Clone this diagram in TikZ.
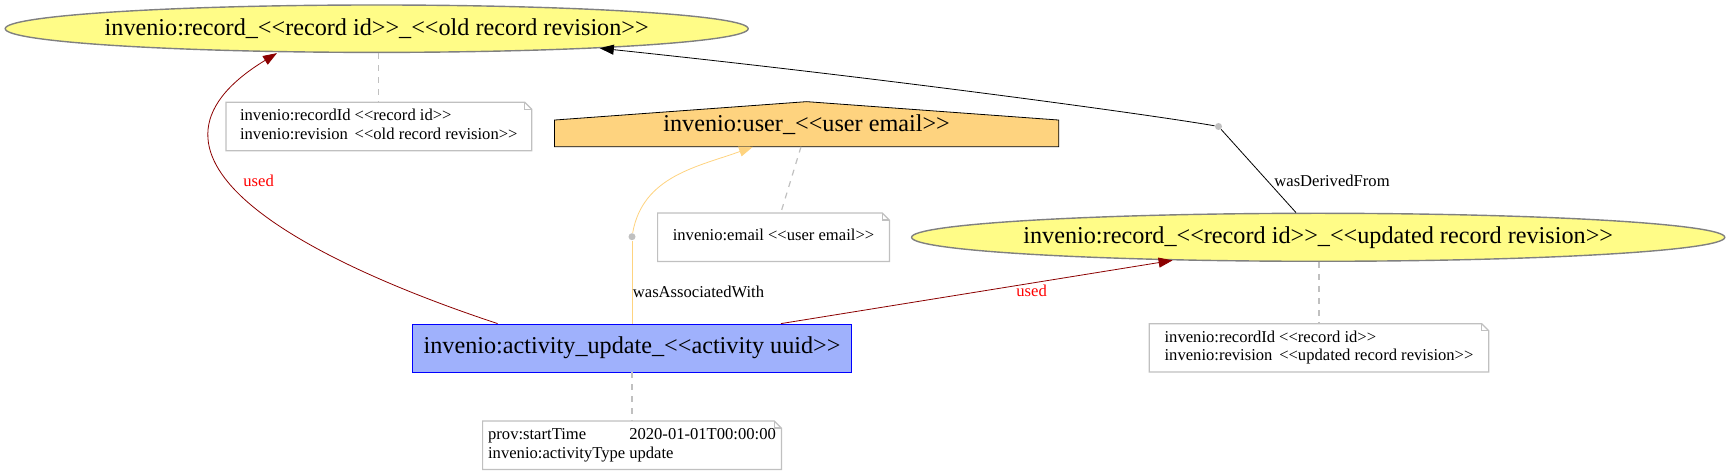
\documentclass[tikz,border=0pt]{standalone}
\usepackage{fontspec}
\setmainfont{Liberation Serif}[Ligatures=TeXOff]
\usetikzlibrary{shapes.geometric,arrows.meta}
\pgfdeclarelayer{bg}
\pgfsetlayers{bg,main}

\definecolor{entityfill}{HTML}{FFFC87}
\definecolor{entityline}{HTML}{808080}
\definecolor{activityfill}{HTML}{9FB1FC}
\definecolor{agentfill}{HTML}{FED37F}
\definecolor{annotgray}{HTML}{C0C0C0}
\definecolor{usedred}{HTML}{8B0000}

\newcommand{\bigfont}{\fontsize{12.1}{14}\selectfont}
\newcommand{\smallfont}{\fontsize{8.3}{9.2}\selectfont}
\newcommand{\wide}[1]{\makebox[0pt]{#1}}
\newcommand{\kv}[1]{\begin{tabular}{@{}l@{\hspace{2pt}}l@{}}#1\end{tabular}}
% outline of a note with its folded corner
\newcommand{\noteframe}[1]{%
    \draw[annot] (#1.north west) -- ([xshift=-3.5pt]#1.north east)
        -- ([yshift=-3.5pt]#1.north east) -- (#1.south east)
        -- (#1.south west) -- cycle;%
    \draw[annot] ([xshift=-3.5pt]#1.north east) |- ([yshift=-3.5pt]#1.north east);%
}

\begin{document}
\begin{tikzpicture}[x=0.5pt, y=-0.5pt, line width=0.7pt,
    entity/.style={ellipse, draw=entityline, fill=entityfill, inner sep=0pt, font=\bigfont},
    activity/.style={rectangle, draw=blue, fill=activityfill, inner sep=0pt, font=\bigfont},
    agent/.style={rectangle, inner sep=0pt, font=\bigfont},
    annotation/.style={rectangle, fill=white, inner sep=0pt, minimum height=23.8pt, font=\smallfont},
    blank/.style={circle, fill=annotgray, inner sep=0pt, minimum size=3.5pt},
    annot/.style={draw=annotgray, line width=0.6pt},
    annotlink/.style={annot, dash pattern=on 3pt off 3pt},
    lbl/.style={inner sep=0pt, font=\smallfont},
    arrowed/.style={-{Triangle[length=7pt, width=5pt]}},
    usedline/.style={draw=usedred},
    assocline/.style={draw=agentfill}]

    \useasboundingbox (0,0) rectangle (1730,475);

    % --- Entities ---
    \node[entity, minimum width=371.5pt, minimum height=23.7pt] (oldrec) at (376.7,28.7)
        {\wide{invenio:record\_<<record id>>\_<<old record revision>>}};
    \node[entity, minimum width=406.6pt, minimum height=24pt] (newrec) at (1318.2,237.3)
        {\wide{invenio:record\_<<record id>>\_<<updated record revision>>}};

    % --- Agent (house drawn behind its text) ---
    \node[agent, minimum width=251.5pt, minimum height=21.85pt] (user) at (806.6,124.2)
        {invenio:user\_<<user email>>};
    \begin{pgfonlayer}{bg}
        \filldraw[draw=black, fill=agentfill] (user.south west) -- ([yshift=13.35pt]user.south west)
            -- (user.north) -- ([yshift=13.35pt]user.south east) -- (user.south east) -- cycle;
    \end{pgfonlayer}

    % --- Activity ---
    \node[activity, minimum width=219.7pt, minimum height=24pt] (act) at (632,348)
        {invenio:activity\_update\_<<activity uuid>>};

    % --- Notes ---
    \node[annotation, minimum width=152.5pt] (oldnote) at (378.8,126.5)
        {\kv{invenio:recordId & <<record id>>\\ invenio:revision & <<old record revision>>}};
    \node[annotation, minimum width=115.5pt] (usernote) at (773.5,237.3)
        {\kv{invenio:email & <<user email>>}};
    \node[annotation, minimum width=169.35pt] (newnote) at (1319,347.9)
        {\kv{invenio:recordId & <<record id>>\\ invenio:revision & <<updated record revision>>}};
    \node[annotation, minimum width=149pt] (actnote) at (632,445.3)
        {\kv{prov:startTime & 2020-01-01T00:00:00\\ invenio:activityType & update}};
    \noteframe{oldnote}
    \noteframe{usernote}
    \noteframe{newnote}
    \noteframe{actnote}

    \draw[annotlink] (oldrec.south -| oldnote.north) -- (oldnote.north);
    \draw[annotlink] ([xshift=-2.8pt]user.south) -- ([xshift=3.6pt]usernote.north);
    \draw[annotlink] (newrec.south -| newnote.north) -- (newnote.north);
    \draw[annotlink] (act.south) -- (actnote.north);

    % --- Relations ---
    \node[blank] (assoc) at (632,236.7) {};
    \node[blank] (derive) at (1218.5,126.5) {};

    \draw[usedline, arrowed] ([xshift=-67.2pt]act.north)
        .. controls +(-189.9,-62.8) and +(-170.6,104.1) .. ([xshift=-49.85pt]oldrec.south);
    \draw[usedline, arrowed] ([xshift=74.5pt]act.north) -- (newrec.189.1);

    \draw[assocline] (act.north) -- (assoc);
    \draw[assocline, arrowed] (assoc) to[out=80, in=-160] ([xshift=-26.8pt]user.south);

    \draw ([xshift=-11.1pt]newrec.north) -- (derive);
    \draw[arrowed] (derive) .. controls +(-59.1,-10.4) and +(298.4,31.4) .. (oldrec.355);

    % Edge labels
    \node[lbl, text=red, anchor=west] (usedold) at (243,180.7) {used};
    \node[lbl, text=red, anchor=west] (usednew) at (1016,291) {used};
    \node[lbl, anchor=west] (assoclbl) at (632.5,291.7) {wasAssociatedWith};
    \node[lbl, anchor=west] (derivelbl) at (1274,180.7) {wasDerivedFrom};

\end{tikzpicture}
\end{document}
